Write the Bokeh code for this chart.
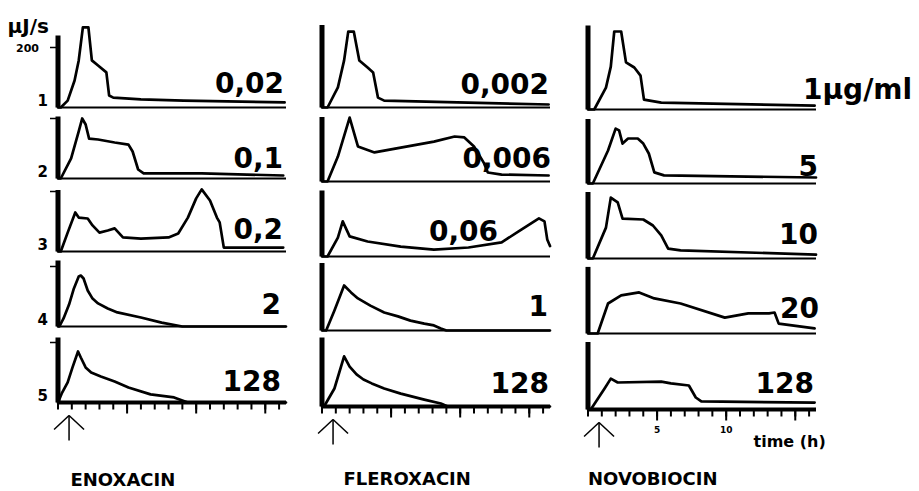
from bokeh.plotting import figure
from bokeh.models import Range1d
from bokeh.core.properties import value
from bokeh.embed import file_html
from bokeh.resources import INLINE

# ---------------- data ----------------
drugs = ["ENOXACIN", "FLEROXACIN", "NOVOBIOCIN"]
concentrations = [
    ["0,02", "0,1", "0,2", "2", "128"],
    ["0,002", "0,006", "0,06", "1", "128"],
    ["1\u03bcg/ml", "5", "10", "20", "128"],
]
panel_numbers = ["1", "2", "3", "4", "5"]
y_tick_value = 200          # μJ/s
y_unit = "\u03bcJ/s"
time_label = "time (h)"
time_ticks_major = [5, 10, 15]
time_tick_labels = ["5", "10", ""]
time_ticks_minor = list(range(0, 17))
addition_time = 0.8         # h, arrow

# ENOXACIN (time h, heat flow μJ/s)
eno1_t = [0, 0.2, 0.7, 1.2, 1.5, 1.8, 2.2, 2.45, 2.9, 3.5, 3.7, 4.0, 6.0, 9.1, 16.4]
eno1_v = [0, 0, 23, 90, 157, 267, 267, 157, 140, 117, 40, 33, 27, 23, 17]
eno2_t = [0, 0.2, 0.95, 1.5, 1.75, 2.0, 2.25, 2.9, 4.1, 5.1, 5.4, 5.8, 6.2, 10.4, 16.3]
eno2_v = [0, 0, 67, 157, 200, 180, 133, 130, 120, 113, 90, 30, 17, 17, 10]
eno3_t = [0, 0.2, 0.7, 1.25, 1.5, 2.15, 2.5, 3.0, 3.6, 4.1, 4.7, 6.0, 8.0, 8.7, 9.4,
          10.0, 10.4, 11.0, 11.5, 11.7, 12.0, 16.3]
eno3_v = [0, 0, 63, 130, 113, 110, 87, 63, 70, 77, 47, 43, 47, 60, 113,
          177, 207, 170, 113, 97, 13, 13]
eno4_t = [0, 0.1, 0.4, 0.8, 1.15, 1.5, 1.65, 1.85, 2.15, 2.5, 2.9, 3.6, 4.3, 6.0, 7.5, 9.0, 16.5]
eno4_v = [0, 0, 27, 73, 127, 167, 170, 160, 120, 93, 77, 60, 47, 30, 13, 0, 0]
eno5_t = [0, 0.3, 0.7, 1.05, 1.45, 1.65, 2.0, 2.4, 3.1, 4.1, 5.1, 6.7, 8.4, 9.0, 9.4, 16.5]
eno5_v = [0, 33, 67, 117, 170, 150, 117, 100, 87, 70, 50, 27, 17, 7, 0, 0]

# FLEROXACIN
fle1_t = [0, 0.4, 1.15, 1.6, 1.9, 2.3, 2.7, 3.3, 3.7, 4.05, 4.5, 16.4]
fle1_v = [0, 0, 67, 157, 253, 253, 157, 133, 117, 33, 23, 10]
fle2_t = [0, 0.4, 1.15, 2.0, 2.6, 3.8, 5.7, 8.1, 9.6, 10.3, 11.0, 11.7, 12.0, 13.0, 16.4]
fle2_v = [0, 0, 83, 213, 117, 97, 113, 133, 150, 147, 117, 63, 30, 23, 20]
fle3_t = [0, 0.4, 1.15, 1.5, 2.0, 3.3, 5.7, 8.1, 10.6, 13.0, 14.2, 15.7, 16.1, 16.3, 16.5]
fle3_v = [0, 0, 63, 117, 67, 50, 33, 23, 30, 47, 83, 127, 117, 57, 35]
fle4_t = [0, 0.3, 0.9, 1.6, 2.1, 2.6, 3.5, 4.5, 5.5, 6.4, 7.4, 8.1, 8.6, 9.0, 16.5]
fle4_v = [0, 0, 67, 150, 127, 107, 83, 60, 47, 33, 23, 17, 7, 0, 0]
fle5_t = [0, 0.15, 0.9, 1.6, 2.0, 2.5, 3.0, 3.6, 4.5, 5.7, 7.4, 8.6, 9.1, 16.5]
fle5_v = [0, 0, 60, 167, 133, 107, 90, 77, 60, 43, 23, 10, 0, 0]

# NOVOBIOCIN
nov1_t = [0, 0.45, 1.3, 1.65, 1.9, 2.4, 2.75, 3.35, 3.8, 4.05, 5.3, 16.4]
nov1_v = [0, 0, 73, 143, 260, 260, 157, 140, 113, 33, 23, 13]
nov2_t = [0, 0.35, 1.45, 2.0, 2.25, 2.5, 2.9, 3.6, 4.0, 4.4, 4.8, 5.5, 16.5]
nov2_v = [0, 0, 110, 183, 177, 133, 150, 150, 133, 100, 37, 27, 20]
nov3_t = [0, 0.35, 1.3, 1.65, 2.15, 2.5, 4.0, 4.7, 5.3, 5.8, 6.7, 16.5]
nov3_v = [0, 0, 103, 203, 187, 133, 130, 110, 77, 33, 27, 13]
nov4_t = [0, 0.7, 1.45, 2.4, 3.7, 4.8, 6.7, 9.9, 11.6, 13.1, 13.5, 13.8, 16.4]
nov4_v = [0, 0, 100, 127, 137, 117, 100, 53, 67, 67, 70, 33, 17]
nov5_t = [0, 0.2, 1.2, 1.65, 2.15, 5.3, 6.0, 7.3, 7.8, 8.2, 16.4]
nov5_v = [0, 0, 70, 103, 90, 93, 87, 80, 40, 27, 23]

curves = [
    [(eno1_t, eno1_v), (eno2_t, eno2_v), (eno3_t, eno3_v), (eno4_t, eno4_v), (eno5_t, eno5_v)],
    [(fle1_t, fle1_v), (fle2_t, fle2_v), (fle3_t, fle3_v), (fle4_t, fle4_v), (fle5_t, fle5_v)],
    [(nov1_t, nov1_v), (nov2_t, nov2_v), (nov3_t, nov3_v), (nov4_t, nov4_v), (nov5_t, nov5_v)],
]

# ---------------- layout / style (pixels) ----------------
W, H = 915, 489
X_MAX = 16.5                      # h, panel width
PANEL_W = 228                     # px
S = PANEL_W / X_MAX               # px per hour
K = 0.30                          # px per μJ/s
CAP = 0.73                        # glyph top above the alphabetic baseline (em)
col_left = [57.5, 321.5, 587.5]   # x of each column's t = 0
baselines = [                     # y (from top) of each panel's zero line
    [107, 178, 251, 326, 402],
    [107, 181, 256, 330, 406],
    [109, 183, 258, 333, 409],
]
axis_tops = [[240, 275, 280], [207, 215, 215], [205, 220, 222], [220, 225, 222], [217, 230, 225]]
# concentration label: (x offset px from panel right end, text baseline px above zero line, align)
label_place = [
    [(-2, 15, "right"), (-3, 11, "right"), (-3, 13, "right"), (-5, 13, "right"), (-5, 12, "right")],
    [(-1, 14, "right"), (1, 14, "right"), (-52, 16, "right"), (-2, 15, "right"), (-1, 14, "right")],
    [(-13, 16, "left"), (2, 8, "right"), (2, 15, "right"), (3, 16, "right"), (-2, 17, "right")],
]
title_dx = [12.5, 21.5, 0]
title_below = [80, 75, 72]
FONT = "DejaVu Sans"
INK = "black"

p = figure(width=W, height=H, x_range=Range1d(0, W), y_range=Range1d(0, H),
           x_axis_type=None, y_axis_type=None, output_backend="svg",
           toolbar_location=None, title=None, min_border=0)
p.outline_line_color = None
p.background_fill_color = "white"
p.border_fill_color = "white"

p.extra_x_ranges = {f"t{c}": Range1d(-col_left[c] / S, (W - col_left[c]) / S) for c in range(3)}
p.extra_y_ranges = {f"v{r}{c}": Range1d(-(H - baselines[c][r]) / K, baselines[c][r] / K)
                    for r in range(5) for c in range(3)}


def txt(xr, yr, xs, base_px, texts, size, align="left"):
    """Text whose alphabetic baseline lies base_px pixels above the panel's zero line."""
    ys = [(b + CAP * size) / K for b in base_px]
    p.text(x=xs, y=ys, text=texts, x_range_name=xr, y_range_name=yr,
           text_font=value(FONT), text_font_style="bold", text_font_size=value(f"{size}px"),
           text_align=align, text_baseline="top", text_color=INK)


for c in range(3):
    xr = f"t{c}"
    for r in range(5):
        yr = f"v{r}{c}"
        # left axis bar
        p.segment(x0=[0], y0=[0], x1=[0], y1=[axis_tops[r][c]], x_range_name=xr, y_range_name=yr,
                  line_width=5, line_color=INK, line_cap="butt")
        # baseline (time axis)
        p.segment(x0=[0], y0=[0], x1=[X_MAX], y1=[0], x_range_name=xr, y_range_name=yr,
                  line_width=4 if r == 4 else 2, line_color=INK)
        # curve
        t, v = curves[c][r]
        p.line(t, v, x_range_name=xr, y_range_name=yr, line_color=INK, line_width=2.7,
               line_join="round", line_cap="round")
        # concentration label
        dx, dy, al = label_place[c][r]
        txt(xr, yr, [X_MAX + dx / S], [dy], [concentrations[c][r]], 28, align=al)
        if c == 0:
            # 200 tick and panel number
            p.segment(x0=[-8 / S], y0=[y_tick_value], x1=[0], y1=[y_tick_value],
                      x_range_name=xr, y_range_name=yr, line_width=1.5, line_color=INK)
            txt(xr, yr, [-10 / S], [3], [panel_numbers[r]], 15, align="right")
            if r == 0:
                p.text(x=[-19 / S], y=[y_tick_value], text=[str(y_tick_value)],
                       x_range_name=xr, y_range_name=yr, text_font=value(FONT),
                       text_font_style="bold", text_font_size=value("11px"),
                       text_align="right", text_baseline="middle", text_color=INK)
                txt(xr, yr, [-50.5 / S], [79], [y_unit], 20, align="left")
        if r == 4:
            # tick marks on the time axis
            p.segment(x0=time_ticks_minor, y0=[0] * len(time_ticks_minor),
                      x1=time_ticks_minor, y1=[-7 / K] * len(time_ticks_minor),
                      x_range_name=xr, y_range_name=yr, line_width=2, line_color=INK)
            p.segment(x0=time_ticks_major, y0=[0] * len(time_ticks_major),
                      x1=time_ticks_major, y1=[-11 / K] * len(time_ticks_major),
                      x_range_name=xr, y_range_name=yr, line_width=2, line_color=INK)
            if c == 2:
                p.text(x=time_ticks_major, y=[-16 / K] * 3, text=time_tick_labels,
                       x_range_name=xr, y_range_name=yr, text_font=value(FONT),
                       text_font_style="bold", text_font_size=value("9px"),
                       text_align="center", text_baseline="top", text_color=INK)
                txt(xr, yr, [165.5 / S], [-34], [time_label], 16, align="left")
            # arrow marking the addition
            a = addition_time
            p.segment(x0=[a, a, a], y0=[-38 / K, -13 / K, -13 / K],
                      x1=[a, a - 15 / S, a + 15 / S], y1=[-13 / K, -27 / K, -27 / K],
                      x_range_name=xr, y_range_name=yr, line_width=1.5, line_color=INK)
            # drug name
            txt(xr, yr, [title_dx[c] / S], [-title_below[c]], [drugs[c]], 18, align="left")

open("out.html", "w").write(file_html(p, INLINE))
